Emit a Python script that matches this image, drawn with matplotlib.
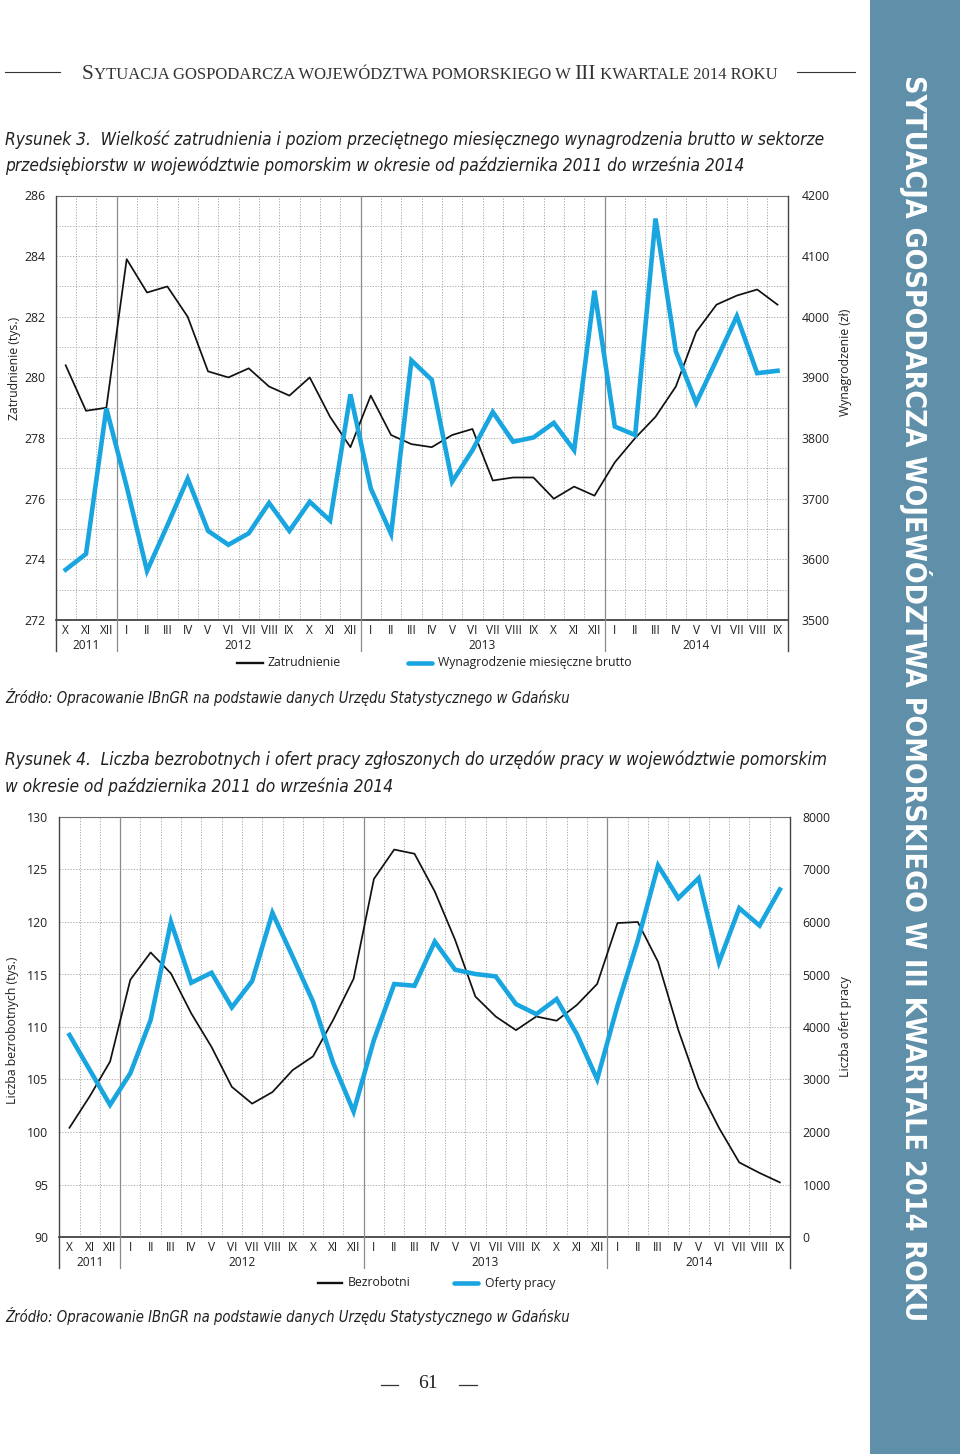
import numpy as np
import matplotlib
matplotlib.use('Agg')
import matplotlib.pyplot as plt
import matplotlib.transforms as mtransforms
from matplotlib import font_manager
from matplotlib.lines import Line2D
from matplotlib.patches import Rectangle

# --- data -------------------------------------------------------------
roman = ['I', 'II', 'III', 'IV', 'V', 'VI', 'VII', 'VIII', 'IX', 'X', 'XI', 'XII']
months = roman[9:] + roman + roman + roman[:9]
years = ['2011', '2012', '2013', '2014']
year_spans = [(0, 3), (3, 15), (15, 27), (27, 36)]

zatrudnienie = [280.4, 278.9, 279.0,
                283.9, 282.8, 283.0, 282.0, 280.2, 280.0, 280.3, 279.7, 279.4, 280.0, 278.7, 277.7,
                279.4, 278.1, 277.8, 277.7, 278.1, 278.3, 276.6, 276.7, 276.7, 276.0, 276.4, 276.1,
                277.2, 278.0, 278.7, 279.7, 281.5, 282.4, 282.7, 282.9, 282.4]
wynagrodzenie = [3583, 3609, 3849,
                 3720, 3581, 3656, 3733, 3647, 3624, 3643, 3693, 3647, 3695, 3664, 3872,
                 3717, 3642, 3928, 3896, 3728, 3780, 3843, 3794, 3801, 3825, 3780, 4043,
                 3819, 3805, 4162, 3943, 3858, 3929, 4001, 3907, 3911]
bezrobotni = [100.4, 103.4, 106.7,
              114.5, 117.1, 115.1, 111.3, 108.1, 104.3, 102.7, 103.8, 105.9, 107.2, 110.7, 114.6,
              124.1, 126.9, 126.5, 122.9, 118.3, 112.9, 111.0, 109.7, 111.0, 110.6, 112.1, 114.1,
              119.9, 120.0, 116.2, 109.7, 104.2, 100.4, 97.1, 96.1, 95.2]
oferty = [3848, 3182, 2517,
          3119, 4134, 6003, 4843, 5033, 4374, 4875, 6174, 5338, 4482, 3309, 2390,
          3753, 4818, 4786, 5626, 5091, 5009, 4964, 4436, 4245, 4532, 3863, 3004,
          4404, 5645, 7077, 6453, 6835, 5232, 6263, 5932, 6619]

header = 'SYTUACJA GOSPODARCZA WOJEWÓDZTWA POMORSKIEGO W III KWARTALE 2014 ROKU'
cap3 = ['Rysunek 3.  Wielkość zatrudnienia i poziom przeciętnego miesięcznego wynagrodzenia brutto w sektorze',
        'przedsiębiorstw w województwie pomorskim w okresie od października 2011 do września 2014']
cap4 = ['Rysunek 4.  Liczba bezrobotnych i ofert pracy zgłoszonych do urzędów pracy w województwie pomorskim',
        'w okresie od października 2011 do września 2014']
zrodlo = 'Źródło: Opracowanie IBnGR na podstawie danych Urzędu Statystycznego w Gdańsku'

# --- setup ------------------------------------------------------------
W, H = 960, 1454
fig = plt.figure(figsize=(9.6, 14.54), dpi=100)
fig.patch.set_facecolor('white')

def fx(x):
    return x / W

def fy(y):
    return 1 - y / H

# pick a condensed sans if one is installed
entries = font_manager.fontManager.ttflist
names = {f.name for f in entries}
if 'Liberation Sans Narrow' in names:
    NARROW = dict(family='Liberation Sans Narrow')
elif any(f.name == 'DejaVu Sans' and 'condensed' in str(f.stretch) for f in entries):
    NARROW = dict(family='DejaVu Sans', fontstretch='condensed')
else:
    NARROW = dict(family='Liberation Sans')
SANS = 'Open Sans'
SERIF = 'Liberation Serif'
TXT = '#231f20'
BLUE = '#19a5df'
GRID = '#a0a0a0'
SEP = '#8a8a8a'
renderer = fig.canvas.get_renderer()

def width_of(t):
    return t.get_window_extent(renderer).width

def fit(t, target):
    t.set_fontsize(t.get_fontsize() * target / width_of(t))
    return t.get_fontsize()


def chart(l, t, r, b, black, blue, lim1, major1, minor1, lim2, ticks2,
          lab1, lab1_pos, lab2, lab2_pos, leg, lpad, rpad):
    h = b - t
    ax = fig.add_axes([fx(l), fy(b), (r - l) / W, h / H])
    x = np.arange(len(months)) + 0.5
    ax.set_xlim(0, len(months))
    ax.set_ylim(*lim1)
    ax.set_xticks(np.arange(1, len(months)))
    ax.tick_params(axis='x', length=0, labelbottom=False)
    ax.set_yticks(major1)
    ax.set_yticks(minor1, minor=True)
    ax.tick_params(axis='y', which='both', length=0, pad=lpad, labelsize=8.8,
                   labelcolor=TXT, labelfontfamily=SANS)
    ax.grid(True, which='both', color=GRID, lw=0.6, ls=(0, (1.5, 1.8)))
    ax.set_axisbelow(True)
    for s in ['left', 'right']:
        ax.spines[s].set_visible(False)
    ax.spines['top'].set_color('#6d6d6d')
    ax.spines['top'].set_linewidth(0.8)
    ax.spines['bottom'].set_color('#333333')
    ax.spines['bottom'].set_linewidth(1.2)

    trans = mtransforms.blended_transform_factory(ax.transData, ax.transAxes)
    ext = -31.0 / h
    for xv in [0, 3, 15, 27, 36]:
        c, lw = ('#444444', 1.0) if xv in (0, 36) else (SEP, 0.9)
        ax.plot([xv, xv], [ext, 1], transform=trans, color=c, lw=lw,
                clip_on=False, zorder=3)
    for i, m in enumerate(months):
        ax.text(i + 0.5, -10.5 / h, m, transform=trans, ha='center', va='center',
                fontsize=8.6, family=SANS, color=TXT)
    for yr, (a, z) in zip(years, year_spans):
        ax.text((a + z) / 2, -26.0 / h, yr, transform=trans, ha='center', va='center',
                fontsize=8.6, family=SANS, color=TXT)

    ax.plot(x, black, color='#111111', lw=1.25, zorder=4)
    ax2 = ax.twinx()
    ax2.set_ylim(*lim2)
    ax2.set_yticks(ticks2)
    ax2.tick_params(axis='y', length=0, pad=rpad, labelsize=8.8,
                    labelcolor=TXT, labelfontfamily=SANS)
    for s in ax2.spines.values():
        s.set_visible(False)
    ax2.plot(x, blue, color=BLUE, lw=3.3, solid_joinstyle='miter', zorder=4)

    fig.text(fx(lab1_pos[0]), fy(lab1_pos[1]), lab1, rotation=90, ha='center',
             va='center', fontsize=8.8, family=SANS, color=TXT)
    fig.text(fx(lab2_pos[0]), fy(lab2_pos[1]), lab2, rotation=90, ha='center',
             va='center', fontsize=8.8, family=SANS, color=TXT)

    (bx0, bx1, btx, blab), (cx0, cx1, ctx, clab), ly = leg
    fig.add_artist(Line2D([fx(bx0), fx(bx1)], [fy(ly), fy(ly)], color='#111111', lw=1.7))
    fig.add_artist(Line2D([fx(cx0), fx(cx1)], [fy(ly), fy(ly)], color=BLUE, lw=3.3,
                          solid_capstyle='round'))
    fig.text(fx(btx), fy(ly), blab, ha='left', va='center', fontsize=8.8,
             family=SANS, color=TXT)
    fig.text(fx(ctx), fy(ly), clab, ha='left', va='center', fontsize=8.8,
             family=SANS, color=TXT)
    return ax, ax2


chart(55.5, 195.5, 787.7, 620, zatrudnienie, wynagrodzenie,
      (272, 286), np.arange(272, 287, 2), np.arange(272, 287, 1),
      (3500, 4200), np.arange(3500, 4201, 100),
      'Zatrudnienie (tys.)', (15, 368), 'Wynagrodzenie (zł)', (845, 362),
      ((237, 263, 267, 'Zatrudnienie'), (408, 432, 438, 'Wynagrodzenie miesięczne brutto'), 663),
      7, 10)

chart(59.3, 817, 790, 1237, bezrobotni, oferty,
      (90, 130), np.arange(90, 131, 5), [],
      (0, 8000), np.arange(0, 8001, 1000),
      'Liczba bezrobotnych (tys.)', (13, 1030), 'Liczba ofert pracy', (846, 1027),
      ((318, 342, 348, 'Bezrobotni'), (454, 478, 485, 'Oferty pracy'), 1283),
      8, 9)

# --- captions ---------------------------------------------------------
t = fig.text(fx(5), fy(140), cap3[0], ha='left', va='center', fontsize=12,
             style='italic', color=TXT, **NARROW)
fs = fit(t, 815)
fig.text(fx(5), fy(166), cap3[1], ha='left', va='center', fontsize=fs,
         style='italic', color=TXT, **NARROW)
fig.text(fx(5), fy(760), cap4[0], ha='left', va='center', fontsize=fs,
         style='italic', color=TXT, **NARROW)
fig.text(fx(5), fy(787), cap4[1], ha='left', va='center', fontsize=fs,
         style='italic', color=TXT, **NARROW)
for yy in (697, 1316):
    s = fig.text(fx(5), fy(yy), zrodlo, ha='left', va='center', fontsize=fs,
                 style='italic', color=TXT, **NARROW)
    fit(s, 565)

# --- running header in small caps ---------------------------------------
parts = [('S', 1.0), ('YTUACJA GOSPODARCZA WOJEWÓDZTWA POMORSKIEGO W ', 0.78),
         ('III', 1.0), (' KWARTALE 2014 ROKU', 0.78)]

def small_caps(x0, yb, base):
    arts = []
    xx = x0
    for s, k in parts:
        a = fig.text(fx(xx), fy(yb), s, ha='left', va='baseline', fontsize=base * k,
                     family=SERIF, color='#333333')
        xx += width_of(a)
        arts.append(a)
    return arts, xx - x0

arts, wtot = small_caps(82, 79, 13)
for a in arts:
    a.remove()
small_caps(82, 79, 13 * 704 / wtot)
for xa, xb in [(5, 60), (797, 855)]:
    fig.add_artist(Line2D([fx(xa), fx(xb)], [fy(72), fy(72)], color='#333333', lw=0.8))

# --- page number ------------------------------------------------------
fig.text(fx(428), fy(1384), '61', ha='center', va='center', fontsize=14,
         family=SERIF, color=TXT)
for xa, xb in [(381, 398), (459, 477)]:
    fig.add_artist(Line2D([fx(xa), fx(xb)], [fy(1385), fy(1385)], color='#333333', lw=0.9))

# --- side band ------------------------------------------------------
fig.add_artist(Rectangle((fx(870), 0), 90 / W, 1, transform=fig.transFigure,
                         facecolor='#5f8fa9', edgecolor='none', zorder=0))
bt = fig.text(fx(915), fy(75), header, ha='center', va='top', fontsize=30,
              weight='bold', color='white', **NARROW)
fit(bt, 1245)
bt.set_rotation(-90)

fig.savefig('out.png', dpi=100)
